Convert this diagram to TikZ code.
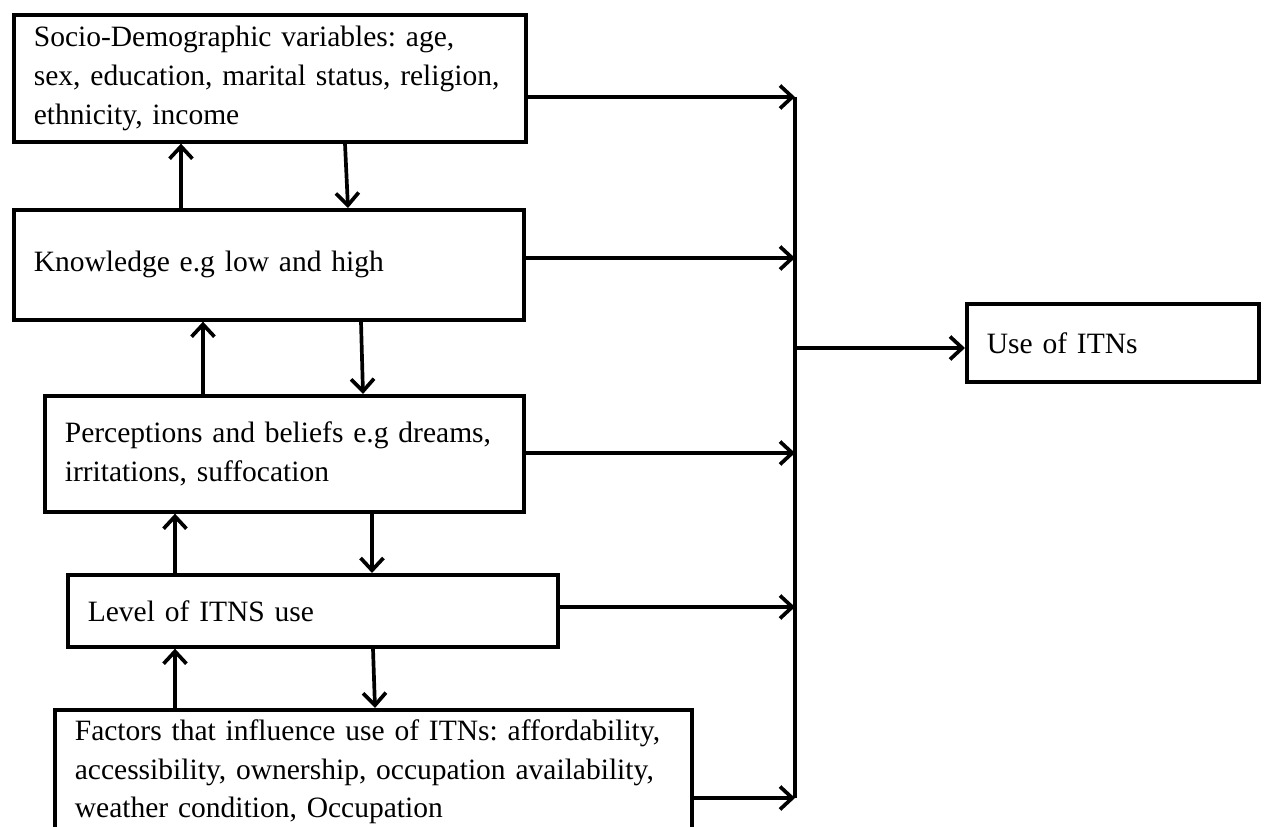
\documentclass[tikz,border=0pt]{standalone}
\usepackage{fontspec}
\setmainfont{Liberation Serif}
\usetikzlibrary{arrows.meta, positioning, calc}
\definecolor{ink}{HTML}{000000}
\frenchspacing
\tikzset{
  font=\fontsize{16.8}{22}\selectfont,
  >={Straight Barb[length=7pt, width=13pt]},
  %
  box/.style={
    draw=ink, line width=2.1pt, fill=white, anchor=north west,
    align=left, text=ink, inner xsep=0.4cm, inner ysep=0pt,
  },
  %
  flow/.style={draw=ink, line width=2.1pt, ->},
  busline/.style={draw=ink, line width=2.1pt},
}
\begin{document}
\begin{tikzpicture}[x=0.02cm, y=-0.02cm]
\useasboundingbox (0,0) rectangle (1264,827);

% ---------------------------------------------------------------- factors
\node[box, minimum width=10.24cm, text width=9.44cm, minimum height=2.54cm]
  (socio) at (12,13)
  {Socio-Demographic variables: age,\\
   sex, education, marital status, religion,\\
   ethnicity, income};
\node[box, minimum width=10.2cm, text width=9.4cm, minimum height=2.2cm]
  (know) at (12,208) {Knowledge e.g low and high};
\node[box, minimum width=9.58cm, text width=8.78cm, minimum height=2.32cm]
  (perc) at (43,394)
  {Perceptions and beliefs e.g dreams,\\ irritations, suffocation};
\node[box, minimum width=9.8cm, text width=9.0cm, minimum height=1.44cm]
  (level) at (66,573) {Level of ITNS use};
\node[box, minimum width=12.74cm, text width=11.94cm, minimum height=2.48cm]
  (infl) at (53,708)
  {Factors that influence use of ITNs: affordability,\\
   accessibility, ownership, occupation availability,\\
   weather condition, Occupation};

% ---------------------------------------------------------------- outcome
\node[box, minimum width=5.84cm, text width=5.04cm, minimum height=1.56cm]
  (use) at (965,302) {Use of ITNs};

% -------------------------------------------------------- up and down
\draw[flow] (know.north -| 181,0) -- (socio.south -| 181,0);
\draw[flow] (socio.south -| 345,0) -- (know.north -| 348,0);
\draw[flow] (perc.north -| 203,0) -- (know.south -| 203,0);
\draw[flow] (know.south -| 361,0) -- (perc.north -| 363,0);
\draw[flow] (level.north -| 175,0) -- (perc.south -| 175,0);
\draw[flow] (perc.south -| 372,0) -- (level.north -| 372,0);
\draw[flow] (infl.north -| 175,0) -- (level.south -| 175,0);
\draw[flow] (level.south -| 373,0) -- (infl.north -| 375,0);

% -------------------------------------------------------------------- bus
\coordinate (bus1) at (795,97);
\coordinate (bus2) at (795,258);
\coordinate (bus3) at (795,453);
\coordinate (bus4) at (795,607);
\coordinate (bus5) at (795,798);
\coordinate (hub) at (795,348);

\draw[busline] (bus1) -- (bus5);
\draw[flow] (socio.east |- bus1) -- (bus1);
\draw[flow] (know.east |- bus2) -- (bus2);
\draw[flow] (perc.east |- bus3) -- (bus3);
\draw[flow] (level.east |- bus4) -- (bus4);
\draw[flow] (infl.east |- bus5) -- (bus5);
\draw[flow] (hub) -- (use.west |- hub);

\end{tikzpicture}
\end{document}
